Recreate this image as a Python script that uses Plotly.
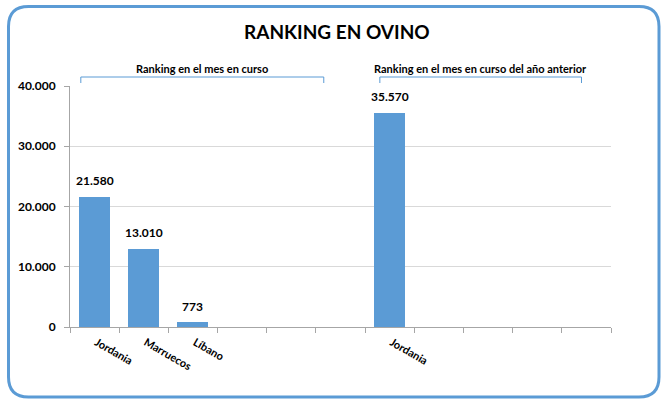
import plotly.graph_objects as go

# ---- data ----
slot_labels = ["Jordania", "Marruecos", "Líbano", "", "", "", "Jordania", "", "", "", ""]
slot_values = [21580, 13010, 773, None, None, None, 35570, None, None, None, None]
y_ticks = [0, 10000, 20000, 30000, 40000]
y_tick_text = ["0", "10.000", "20.000", "30.000", "40.000"]
group_titles = ["Ranking en el mes en curso", "Ranking en el mes en curso del año anterior"]
group_spans = [(-0.28, 4.66), (5.8, 9.9)]
title_text = "RANKING EN OVINO"

BLUE = "#5B9BD5"
FONT = "Lato"
x_pos = list(range(len(slot_labels)))

fig = go.Figure()
fig.add_trace(go.Bar(
    x=x_pos, y=slot_values, width=0.63,
    marker=dict(color=BLUE, line=dict(width=0)),
    hoverinfo="skip",
))

W, H = 664, 401
ml, mr, mt, mb = 70, 53, 86, 74
pw, ph = W - ml - mr, H - mt - mb

def px_to_paper_x(px):
    return (px - ml) / pw

def px_to_paper_y(py):
    return (H - mb - py) / ph

shapes = []
# rounded outer border
x0, x1, y0, y1, r = 8.5, 659, 6.5, 397, 20
def P(px, py):
    return f"{px_to_paper_x(px)},{px_to_paper_y(py)}"
path = (f"M {P(x0 + r, y0)} L {P(x1 - r, y0)} Q {P(x1, y0)} {P(x1, y0 + r)} "
        f"L {P(x1, y1 - r)} Q {P(x1, y1)} {P(x1 - r, y1)} "
        f"L {P(x0 + r, y1)} Q {P(x0, y1)} {P(x0, y1 - r)} "
        f"L {P(x0, y0 + r)} Q {P(x0, y0)} {P(x0 + r, y0)} Z")
shapes.append(dict(type="path", xref="paper", yref="paper", path=path,
                   line=dict(color=BLUE, width=3), fillcolor="rgba(0,0,0,0)", layer="below"))

annotations = []
# data labels
for xv, yv in zip(x_pos, slot_values):
    if yv is None:
        continue
    annotations.append(dict(x=xv, xref="x", y=yv, yref="y", yshift=16,
                            text="<b>" + f"{yv:,}".replace(",", ".") + "</b>",
                            showarrow=False, xanchor="center", yanchor="middle",
                            font=dict(family=FONT, size=12, color="#000000")))

yt, yb = px_to_paper_y(77), px_to_paper_y(83)
for (a, b), t in zip(group_spans, group_titles):
    shapes.append(dict(type="path", xref="x", yref="paper",
                       path=f"M {a},{yb} L {a},{yt} L {b},{yt} L {b},{yb}",
                       line=dict(color=BLUE, width=1)))
    annotations.append(dict(x=(a + b) / 2, xref="x", y=px_to_paper_y(68), yref="paper",
                            text=f"<b>{t}</b>", showarrow=False,
                            xanchor="center", yanchor="middle",
                            font=dict(family=FONT, size=11, color="#000000")))

annotations.append(dict(x=px_to_paper_x(337), xref="paper", y=px_to_paper_y(32), yref="paper",
                        text=f"<b>{title_text}</b>", showarrow=False,
                        xanchor="center", yanchor="middle",
                        font=dict(family=FONT, size=19, color="#000000")))

fig.update_layout(
    width=W, height=H,
    margin=dict(l=ml, r=mr, t=mt, b=mb, autoexpand=False),
    paper_bgcolor="white", plot_bgcolor="white",
    separators=",.",
    showlegend=False,
    shapes=shapes, annotations=annotations,
    bargap=0,
)
fig.update_xaxes(
    automargin=False,
    range=[-0.5, len(slot_labels) - 0.5],
    tickmode="array", tickvals=x_pos,
    ticktext=[f"<b>{s}</b>" for s in slot_labels],
    tickangle=30, ticks="", ticklabelshift=2, ticklabelstandoff=4,
    tickfont=dict(family=FONT, size=11, color="#000000"),
    showline=True, linecolor="#A6A6A6", linewidth=1,
    showgrid=False, zeroline=False,
    minor=dict(tickmode="array", tickvals=[i - 0.5 for i in range(len(slot_labels) + 1)],
               ticks="outside", ticklen=5, tickcolor="#A6A6A6", showgrid=False),
)
fig.update_yaxes(
    automargin=False,
    range=[0, 40000],
    tickmode="array", tickvals=y_ticks, ticktext=[f"<b>{t}</b>" for t in y_tick_text],
    tickfont=dict(family=FONT, size=12, color="#000000"),
    ticks="outside", ticklen=5, tickcolor="#A6A6A6", ticklabelstandoff=6,
    showline=True, linecolor="#A6A6A6", linewidth=1,
    showgrid=True, gridcolor="#D9D9D9", gridwidth=1, zeroline=False,
)

fig.write_html("out.html", config={"displayModeBar": False},
               post_script="document.body.style.margin='0';document.body.style.overflow='hidden';")
